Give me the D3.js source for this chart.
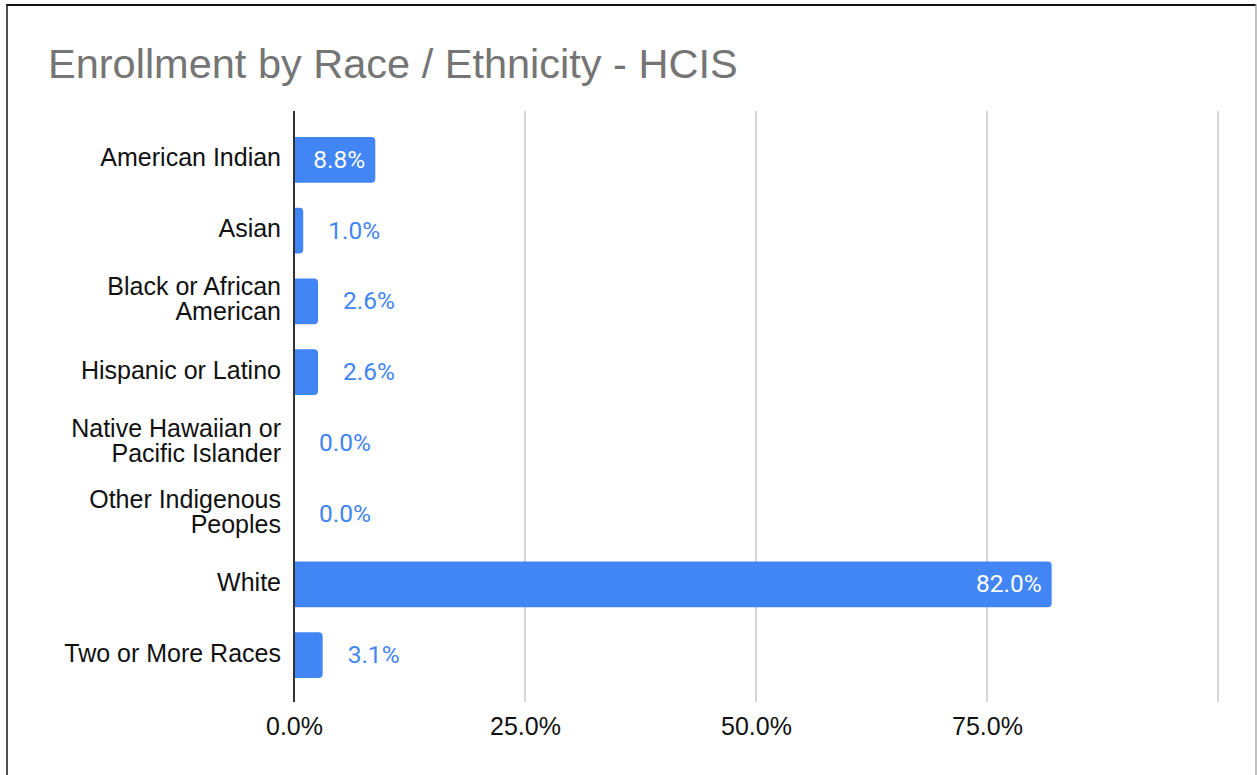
<!DOCTYPE html>
<html>
<head>
<meta charset="utf-8">
<script src="https://cdn.jsdelivr.net/npm/d3@7"></script>
<style>
  html, body { margin: 0; padding: 0; background: #fff; }
  svg { display: block; }
</style>
</head>
<body>
<svg id="chart" width="1257" height="775"></svg>
<script>
// Enrollment share by race / ethnicity (percent)
const categories = [
  ["American Indian"],
  ["Asian"],
  ["Black or African", "American"],
  ["Hispanic or Latino"],
  ["Native Hawaiian or", "Pacific Islander"],
  ["Other Indigenous", "Peoples"],
  ["White"],
  ["Two or More Races"]
];
const values = [8.8, 1.0, 2.6, 2.6, 0.0, 0.0, 82.0, 3.1];
const tickValues = [0, 25, 50, 75];
const gridValues = [25, 50, 75, 100];
const titleText = "Enrollment by Race / Ethnicity - HCIS";

const svg = d3.select("#chart");
const W = 1257, H = 775;
const barColor = "#4285f4";
const sansFont = "'Liberation Sans', Arial, Helvetica, sans-serif";

// frame
svg.append("rect").attr("x", 0).attr("y", 0).attr("width", W).attr("height", H).attr("fill", "#fff");
svg.append("line").attr("x1", 6).attr("x2", 1256).attr("y1", 5).attr("y2", 5)
  .attr("stroke", "#111").attr("stroke-width", 2);
svg.append("line").attr("x1", 7).attr("x2", 7).attr("y1", 4).attr("y2", H)
  .attr("stroke", "#222").attr("stroke-width", 1.6);
svg.append("line").attr("x1", 1256).attr("x2", 1256).attr("y1", 4).attr("y2", H)
  .attr("stroke", "#999").attr("stroke-width", 1.2);

// title
svg.append("text")
  .attr("x", 48).attr("y", 78)
  .attr("font-family", sansFont)
  .attr("font-size", 41.5)
  .attr("fill", "#757575")
  .text(titleText);

const keys = categories.map(d => d.join(" "));
const x = d3.scaleLinear().domain([0, 100]).range([294, 1218]);
const y = d3.scaleBand().domain(keys).range([124.5, 690.5])
  .paddingInner(0.356).paddingOuter(0.178);

const plotTop = 111, plotBottom = 702;

// vertical gridlines
svg.append("g").selectAll("line").data(gridValues).join("line")
  .attr("x1", d => x(d)).attr("x2", d => x(d))
  .attr("y1", plotTop).attr("y2", plotBottom)
  .attr("stroke", "#cccccc").attr("stroke-width", 1.6);

// bottom tick labels
const xAxis = d3.axisBottom(x).tickValues(tickValues)
  .tickFormat(d => d.toFixed(1) + "%").tickSize(0).tickPadding(0);
const gx = svg.append("g").attr("transform", `translate(0,${plotBottom})`).call(xAxis);
gx.select(".domain").remove();
gx.selectAll("text")
  .attr("font-family", sansFont).attr("font-size", 25).attr("fill", "#111")
  .attr("dy", null).attr("y", 33);

// bars with rounded right end
const r = 4;
function barPath(v, yPos, h) {
  const x0 = x(0), x1 = x(v);
  const w = x1 - x0;
  if (w <= 0) return "";
  const rr = Math.min(r, w, h / 2);
  return `M${x0},${yPos}H${x1 - rr}Q${x1},${yPos} ${x1},${yPos + rr}` +
    `V${yPos + h - rr}Q${x1},${yPos + h} ${x1 - rr},${yPos + h}H${x0}Z`;
}

const rows = keys.map((k, i) => ({ key: k, lines: categories[i], value: values[i] }));

svg.append("g").selectAll("path").data(rows).join("path")
  .attr("d", d => barPath(d.value, y(d.key), y.bandwidth()))
  .attr("fill", barColor);

// zero axis line
svg.append("line")
  .attr("x1", x(0)).attr("x2", x(0)).attr("y1", plotTop).attr("y2", plotBottom)
  .attr("stroke", "#333").attr("stroke-width", 2);

// category labels
const lab = svg.append("g").selectAll("text").data(rows).join("text")
  .attr("font-family", sansFont).attr("font-size", 25).attr("fill", "#111")
  .attr("text-anchor", "end");
lab.each(function (d) {
  const cy = y(d.key) + y.bandwidth() / 2;
  const n = d.lines.length;
  d3.select(this).selectAll("tspan").data(d.lines).join("tspan")
    .attr("x", x(0) - 13)
    .attr("y", (t, j) => cy + 6.5 + (j - (n - 1) / 2) * 25)
    .text(t => t);
});

// value labels: inside the bar when it is wide enough, otherwise just after it
const insideMin = 8;
svg.append("g").selectAll("text").data(rows).join("text")
  .attr("font-family", "Roboto, 'Noto Sans', sans-serif")
  .attr("font-size", 24.5)
  .attr("y", d => y(d.key) + y.bandwidth() / 2 + 8)
  .attr("x", d => d.value >= insideMin ? x(d.value) - 10 : x(d.value) + 25)
  .attr("text-anchor", d => d.value >= insideMin ? "end" : "start")
  .attr("fill", d => d.value >= insideMin ? "#ffffff" : barColor)
  .text(d => d.value.toFixed(1) + "%");
</script>
</body>
</html>
